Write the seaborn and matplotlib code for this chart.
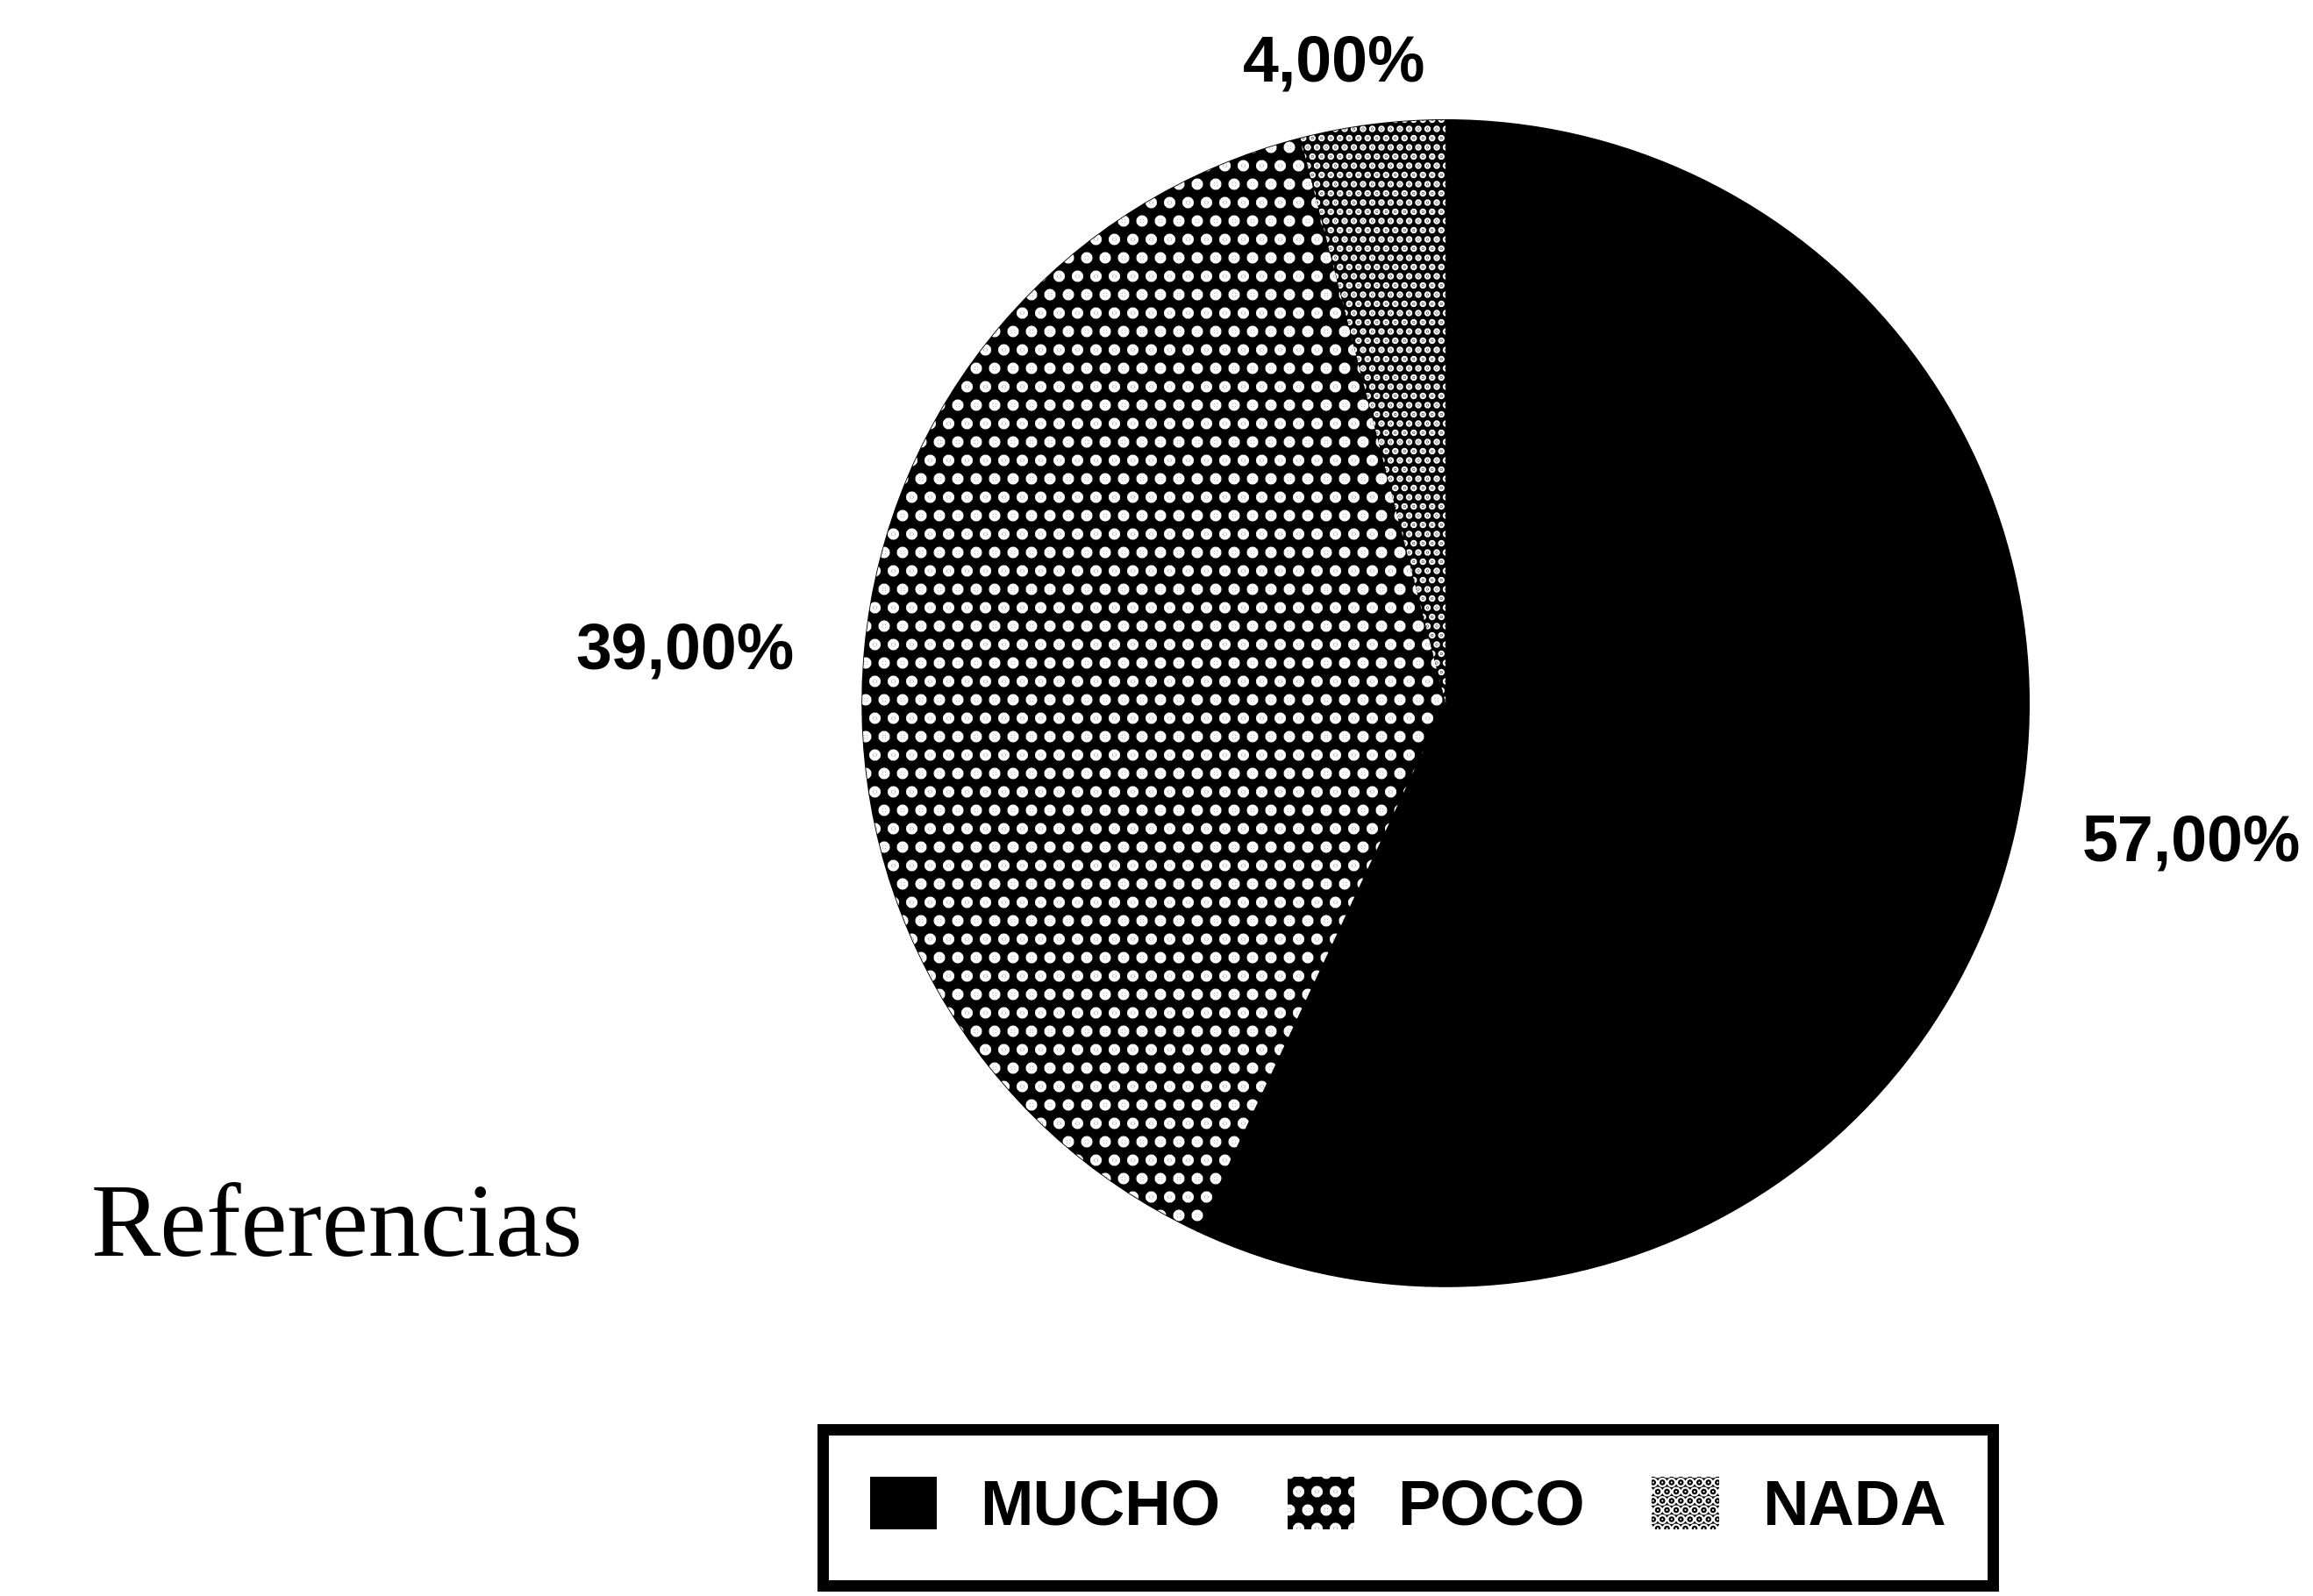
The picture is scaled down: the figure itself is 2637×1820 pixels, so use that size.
import numpy as np
import matplotlib
matplotlib.use("Agg")
import matplotlib.pyplot as plt
import seaborn as sns

# ---- data ----
categories = ["MUCHO", "POCO", "NADA"]
values = [57.0, 39.0, 4.0]
pct_labels = [f"{v:.2f}".replace(".", ",") + "%" for v in values]
title_text = "Referencias"

# ---- style ----
sns.set_theme(style="white")
plt.rcParams["font.family"] = ["Liberation Sans", "DejaVu Sans"]
plt.rcParams["text.color"] = "black"
plt.rcParams["hatch.linewidth"] = 5.0

DPI = 126
fig = plt.figure(figsize=(2637 / DPI, 1820 / DPI), dpi=DPI)
fig.patch.set_facecolor("white")

ax = fig.add_axes([0.3728, 0.1940, 0.5044, 0.7308])
# solid black base
ax.pie(values, startangle=90, counterclock=False, colors=["black"] * 3,
       wedgeprops=dict(linewidth=1.0, edgecolor="black"))
# patterned layer
wedges, _ = ax.pie(values, startangle=90, counterclock=False,
                   colors=["black"] * 3,
                   wedgeprops=dict(linewidth=0, edgecolor="white"))
hatches = [None, ".", ".."]
hatch_lw = [1.0, 5.0, 3.0]
for w, h, lw in zip(wedges, hatches, hatch_lw):
    if h:
        w.set_hatch(h)
        if hasattr(w, "set_hatch_linewidth"):
            w.set_hatch_linewidth(lw)

ax.set_xlim(-1, 1)
ax.set_ylim(-1, 1)
ax.set_aspect("equal")
ax.axis("off")

dists = [1.31, 1.31, 1.13]
nudges = [(0.0, 0.045), (0.0, -0.035), (-0.05, -0.025)]
for w, lab, d, (nx, ny) in zip(wedges, pct_labels, dists, nudges):
    ang = np.deg2rad((w.theta1 + w.theta2) / 2)
    ax.text(d * np.cos(ang) + nx, d * np.sin(ang) + ny, lab, ha="center", va="center",
            fontsize=42, fontweight="bold", color="black", clip_on=False)

fig.text(104 / 2637, 1 - 1432 / 1820, title_text, family=["Liberation Serif", "DejaVu Serif"],
         fontsize=68, ha="left", va="baseline", color="black")

leg = fig.legend(wedges, categories, loc="upper left",
                 bbox_to_anchor=(938 / 2637, 1 - 1630 / 1820), bbox_transform=fig.transFigure,
                 ncol=3, frameon=True, fancybox=False, shadow=False,
                 prop=dict(family="Liberation Sans", weight="bold", size=41.5),
                 handlelength=1.05, handleheight=0.9, handletextpad=0.68,
                 columnspacing=1.05, borderpad=0.74, borderaxespad=0)
for t in leg.get_texts():
    t.set_color("black")
frame = leg.get_frame()
frame.set_edgecolor("black")
frame.set_linewidth(7.4)
frame.set_facecolor("white")
frame.set_alpha(1)

fig.savefig("out.png", dpi=DPI, facecolor="white")
